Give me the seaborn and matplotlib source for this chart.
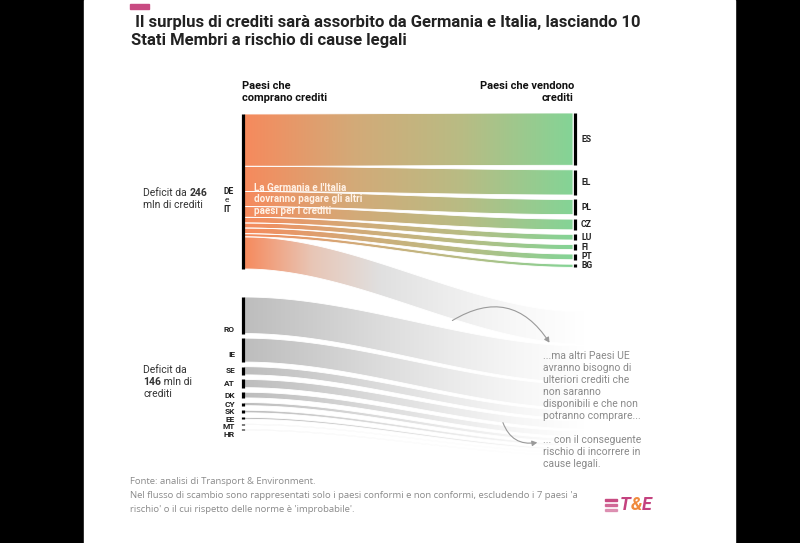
import numpy as np
import matplotlib.pyplot as plt
import seaborn as sns
from matplotlib.patches import Polygon, FancyArrowPatch, Rectangle

# --- data (mln di crediti) ---
sellers = ["ES", "EL", "PL", "CZ", "LU", "FI", "PT", "BG"]
seller_credits = [83, 40, 24, 17, 9, 8, 9, 5]
deficit_main = 246          # DE + IT
other_buyers = ["RO", "IE", "SE", "AT", "DK", "CY", "SK", "EE", "MT", "HR"]
other_credits = [58, 38, 13, 13, 9, 5, 4, 3, 1.5, 1.5]
deficit_other = 146

# --- layout (pixel-like coords) ---
SCALE = 0.63
X_L, X_R, X_HID = 244, 573, 585
TOP_MAIN, TOP_OTHER, TOP_SELL, TOP_HID = 114, 297, 113, 312
GAP_SELL, GAP_OTHER, GAP_HID = 4.5, 4.6, 2.0

sns.set_theme(style="white")
plt.rcParams['font.family'] = ['Roboto', 'DejaVu Sans']

orange_green = sns.blend_palette(["#F68A5D", "#D3AA78", "#B8BC84", "#84D496"], n_colors=256, as_cmap=True)
orange_white = sns.blend_palette(["#F68A5D", "#E8C6B6", "#E0E0E0", "#EDEDED", "#F8F8F8", "#FFFFFF"],
                                 n_colors=256, as_cmap=True)
gray_white = sns.blend_palette(["#BDBDBD", "#CCCCCC", "#DCDCDC", "#EAEAEA", "#F6F6F6", "#FFFFFF"],
                               n_colors=256, as_cmap=True)

fig = plt.figure(figsize=(8, 5.43), dpi=100)
fig.patch.set_facecolor("black")
ax = fig.add_axes([0, 0, 1, 1])
ax.set_facecolor("black")
ax.add_patch(Rectangle((84, 0), 651, 543, color="white", zorder=0))


def flow(y0a, y0b, y1a, y1b, cmap, x0=X_L, x1=X_R):
    xs = np.linspace(x0, x1, 200)
    t = (xs - x0) / (x1 - x0)
    s = 3 * t ** 2 - 2 * t ** 3
    top = y0a + (y1a - y0a) * s
    bot = y0b + (y1b - y0b) * s
    verts = np.vstack([np.column_stack([xs, top]), np.column_stack([xs[::-1], bot[::-1]])])
    patch = Polygon(verts, closed=True, fc="none", ec="white", lw=0.6, zorder=3)
    ax.add_patch(patch)
    grad = np.linspace(0, 1, 512).reshape(1, -1)
    im = ax.imshow(grad, cmap=cmap, extent=(x0, x1, max(y0b, y1b) + 2, min(y0a, y1a) - 2),
                   aspect="auto", interpolation="bilinear", zorder=2)
    im.set_clip_path(patch)


# main flows: DE + IT -> sellers
y_left = TOP_MAIN
y_right = TOP_SELL
for name, v in zip(sellers, seller_credits):
    h = v * SCALE
    flow(y_left, y_left + h, y_right, y_right + h, orange_green)
    ax.vlines(X_R + 1.5, y_right, y_right + h, color="black", lw=2.3, zorder=4)
    ax.text(581, y_right + h / 2, name, fontsize=6.2, fontweight="bold", color="#222", va="center", ha="left")
    y_left += h
    y_right += h + GAP_SELL

# remainder of DE + IT -> hidden (other EU countries)
rest = deficit_main - sum(seller_credits)
h = rest * SCALE
y_hid = TOP_HID
flow(y_left, y_left + h, y_hid, y_hid + h, orange_white, x1=X_HID)
y_hid += h + GAP_HID
ax.vlines(X_L - 1.5, TOP_MAIN, TOP_MAIN + deficit_main * SCALE, color="black", lw=2.3, zorder=4)

# other deficit countries -> hidden
y_o = TOP_OTHER
label_y = []
for name, v in zip(other_buyers, other_credits):
    h = v * SCALE
    flow(y_o, y_o + h, y_hid, y_hid + h, gray_white, x1=X_HID)
    ax.vlines(X_L - 1.5, y_o, y_o + h, color="black", lw=2.3, zorder=4)
    ly = y_o + h / 2
    if h > 30:
        ly = y_o + h - 4
    elif h > 20:
        ly = y_o + h / 2 + 4
    if label_y and ly < label_y[-1] + 7.5:
        ly = label_y[-1] + 7.5
    label_y.append(ly)
    ax.text(235, ly, name, fontsize=6, fontweight="bold", color="#222", va="center", ha="right")
    y_o += h + GAP_OTHER
    y_hid += h + GAP_HID

# DE e IT label
ax.text(223, 191, "DE", fontsize=6.2, fontweight="bold", color="#222", va="center")
ax.text(225, 200, "e", fontsize=6, color="#222", va="center")
ax.text(223, 209, "IT", fontsize=6.2, fontweight="bold", color="#222", va="center")

ax.set_xlim(0, 800)
ax.set_ylim(543, 0)
ax.axis("off")

r = fig.canvas.get_renderer()


def runs(x, y, parts, **kw):
    out = []
    for txt, wt in parts:
        t = ax.text(x, y, txt, fontweight=wt, va="center", ha="left", **kw)
        x += t.get_window_extent(renderer=r).width
        out.append(t)
    return out


# title and headers
ax.add_patch(Rectangle((130, 4), 19, 5, color="#C84B82", zorder=5))
ax.text(131, 22, " Il surplus di crediti sarà assorbito da Germania e Italia, lasciando 10",
        fontsize=12, fontweight="semibold", color="#222", va="center")
ax.text(131, 41, "Stati Membri a rischio di cause legali",
        fontsize=12, fontweight="semibold", color="#222", va="center")
ax.text(242, 86, "Paesi che", fontsize=8, fontweight="bold", color="#111", va="center")
ax.text(242, 98, "comprano crediti", fontsize=8, fontweight="bold", color="#111", va="center")
ax.text(574, 86, "Paesi che vendono", fontsize=8, fontweight="bold", color="#111", va="center", ha="right")
ax.text(574, 98, "crediti", fontsize=8, fontweight="bold", color="#111", va="center", ha="right")

# deficit notes
dk = dict(fontsize=7.5, color="#333")
runs(143, 193, [("Deficit da ", "normal"), (str(deficit_main), "bold")], **dk)
ax.text(143, 205, "mln di crediti", va="center", **dk)
ax.text(143, 370, "Deficit da", va="center", **dk)
runs(143, 382, [(str(deficit_other), "bold"), (" mln di", "normal")], **dk)
ax.text(143, 394, "crediti", va="center", **dk)

# note inside the flows
for i, line in enumerate(["La Germania e l'Italia", "dovranno pagare gli altri", "paesi per i crediti"]):
    ax.text(254, 188 + i * 11.5, line, fontsize=7.1, fontweight="bold", color="#FFF1E6",
            va="center", zorder=6)

# annotations
note1 = ["...ma altri Paesi UE", "avranno bisogno di", "ulteriori crediti che", "non saranno",
         "disponibili e che non", "potranno comprare..."]
note2 = ["... con il conseguente", "rischio di incorrere in", "cause legali."]
for i, line in enumerate(note1):
    ax.text(543, 356 + i * 12, line, fontsize=7.5, color="#8A8A8A", va="center", zorder=6)
for i, line in enumerate(note2):
    ax.text(543, 440 + i * 12, line, fontsize=7.5, color="#8A8A8A", va="center", zorder=6)

ax.add_patch(FancyArrowPatch((450, 322), (551, 345), connectionstyle="arc3,rad=-0.5",
                             arrowstyle="-|>,head_length=3,head_width=1.6", color="#9A9A9A", lw=0.8, zorder=6))
ax.add_patch(FancyArrowPatch((502, 420), (540, 442), connectionstyle="arc3,rad=0.45",
                             arrowstyle="-|>,head_length=3,head_width=1.6", color="#9A9A9A", lw=0.8, zorder=6))

# footer
fk = dict(fontsize=6.8, color="#8A8A8A", va="center", family=["Open Sans", "DejaVu Sans"])
ax.text(130, 481, "Fonte: analisi di Transport & Environment.", **fk)
ax.text(130, 495, "Nel flusso di scambio sono rappresentati solo i paesi conformi e non conformi, "
        "escludendo i 7 paesi 'a", **fk)
ax.text(130, 509, "rischio' o il cui rispetto delle norme è 'improbabile'.", **fk)

# logo
for i, a in enumerate([1.0, 0.75, 0.5]):
    ax.add_patch(Rectangle((605, 499 + i * 5), 12, 2.3, color="#C84B82", alpha=a, zorder=6))
logo = runs(620, 505, [("T", "bold"), ("&", "bold"), ("E", "bold")], fontsize=13, style="italic",
            color="#C4427F")
logo[1].set_color("#F08A3C")

fig.savefig("out.png", dpi=100, facecolor=fig.get_facecolor())
